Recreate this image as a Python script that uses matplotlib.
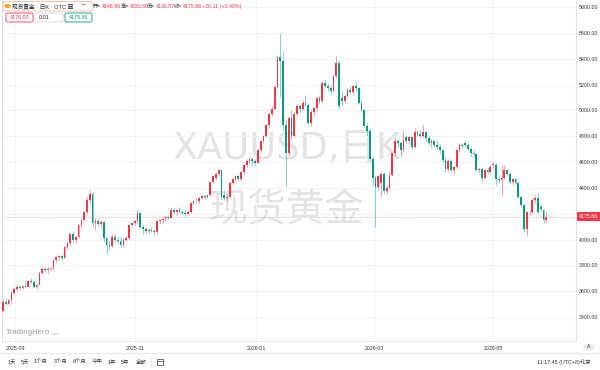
import matplotlib
matplotlib.use('Agg')
import matplotlib.pyplot as plt
from matplotlib.patches import FancyBboxPatch, Rectangle, Circle

plt.rcParams['font.family'] = ['Liberation Sans', 'Noto Sans CJK SC', 'DejaVu Sans']

# daily OHLC (late Aug 2025 .. May 2026)
opens = [3450, 3520, 3505, 3530, 3590, 3615, 3630, 3625, 3640, 3635,
         3680, 3670, 3635, 3650, 3740, 3775, 3765, 3770, 3780, 3840,
         3865, 3870, 3860, 3940, 3970, 4045, 3995, 4020, 4110, 4150,
         4210, 4310, 4355, 4130, 4145, 4120, 4135, 4010, 3960, 3950,
         4020, 4000, 3990, 3955, 4000, 4015, 4110, 4125, 4140, 4205,
         4100, 4080, 4065, 4075, 4070, 4055, 4140, 4150, 4160, 4175,
         4170, 4230, 4215, 4225, 4215, 4205, 4200, 4215, 4280, 4300,
         4295, 4320, 4335, 4330, 4345, 4445, 4480, 4510, 4535, 4345,
         4325, 4330, 4440, 4470, 4490, 4465, 4520, 4575, 4610, 4625,
         4605, 4595, 4690, 4760, 4800, 4885, 4975, 5010, 5180, 5410,
         5380, 4890, 4670, 4940, 4800, 4970, 5030, 5010, 5060, 5045,
         4900, 4990, 5015, 5095, 5070, 5215, 5185, 5175, 5150, 5265,
         5365, 5095, 5070, 5110, 5160, 5145, 5185, 5170, 5060, 5000,
         4880, 4840, 4620, 4480, 4410, 4440, 4505, 4375, 4400, 4500,
         4670, 4760, 4745, 4690, 4790, 4765, 4790, 4715, 4835, 4815,
         4805, 4830, 4785, 4745, 4760, 4730, 4720, 4690, 4615, 4545,
         4610, 4535, 4560, 4690, 4730, 4750, 4735, 4700, 4670, 4660,
         4535, 4550, 4475, 4540, 4520, 4575, 4580, 4470, 4460, 4480,
         4540, 4510, 4445, 4470, 4440, 4330, 4265, 4085, 4210, 4215,
         4305, 4320, 4255, 4230, 4148.96]
highs = [3540, 3545, 3540, 3600, 3630, 3645, 3650, 3650, 3660, 3690,
         3700, 3685, 3660, 3750, 3790, 3790, 3785, 3790, 3850, 3875,
         3880, 3890, 3950, 3990, 4060, 4055, 4030, 4120, 4160, 4220,
         4330, 4381, 4370, 4165, 4160, 4150, 4140, 4020, 3990, 4040,
         4045, 4030, 4020, 4010, 4025, 4120, 4135, 4150, 4240, 4215,
         4110, 4100, 4090, 4095, 4085, 4150, 4160, 4170, 4185, 4190,
         4250, 4245, 4235, 4255, 4230, 4225, 4225, 4290, 4310, 4320,
         4330, 4345, 4350, 4355, 4455, 4500, 4525, 4550, 4540, 4380,
         4350, 4450, 4480, 4500, 4510, 4530, 4585, 4620, 4640, 4635,
         4620, 4700, 4770, 4810, 4895, 4990, 5030, 5190, 5420, 5595,
         5450, 4930, 4960, 5000, 4990, 5050, 5050, 5080, 5120, 5060,
         5010, 5030, 5100, 5110, 5225, 5240, 5210, 5200, 5275, 5420,
         5380, 5140, 5130, 5170, 5190, 5200, 5230, 5180, 5080, 5010,
         4900, 4860, 4640, 4500, 4500, 4520, 4520, 4420, 4520, 4680,
         4790, 4780, 4760, 4850, 4810, 4800, 4800, 4860, 4845, 4850,
         4890, 4840, 4800, 4780, 4770, 4760, 4740, 4700, 4640, 4625,
         4620, 4570, 4700, 4745, 4750, 4765, 4745, 4710, 4690, 4670,
         4560, 4560, 4550, 4555, 4575, 4600, 4590, 4490, 4580, 4580,
         4550, 4520, 4480, 4480, 4450, 4340, 4275, 4220, 4230, 4320,
         4345, 4360, 4275, 4240, 4220.56]
lows = [3440, 3495, 3490, 3520, 3575, 3600, 3610, 3615, 3625, 3630,
        3660, 3625, 3620, 3645, 3730, 3750, 3745, 3760, 3775, 3830,
        3845, 3840, 3855, 3930, 3960, 3985, 3975, 4010, 4100, 4140,
        4195, 4280, 4100, 4075, 4100, 4090, 3990, 3890, 3920, 3940,
        3985, 3970, 3940, 3940, 3990, 4005, 4100, 4110, 4130, 4090,
        4040, 4050, 4040, 4055, 4030, 4045, 4120, 4130, 4140, 4160,
        4165, 4200, 4190, 4205, 4195, 4185, 4190, 4205, 4265, 4280,
        4285, 4305, 4315, 4320, 4340, 4435, 4470, 4500, 4310, 4310,
        4300, 4320, 4430, 4455, 4450, 4455, 4510, 4560, 4595, 4570,
        4580, 4590, 4680, 4745, 4795, 4870, 4960, 5000, 5170, 5100,
        4850, 4405, 4650, 4780, 4790, 4960, 4990, 5000, 5030, 4890,
        4880, 4960, 5000, 5050, 5060, 5170, 5150, 5130, 5140, 5250,
        5010, 5040, 5060, 5100, 5130, 5120, 5150, 5050, 4990, 4870,
        4810, 4600, 4420, 4100, 4390, 4330, 4360, 4350, 4390, 4490,
        4650, 4720, 4640, 4680, 4750, 4740, 4700, 4710, 4800, 4790,
        4795, 4760, 4730, 4720, 4715, 4700, 4670, 4600, 4520, 4530,
        4520, 4510, 4545, 4680, 4710, 4720, 4690, 4650, 4640, 4520,
        4515, 4450, 4465, 4505, 4510, 4560, 4420, 4440, 4340, 4470,
        4500, 4430, 4420, 4430, 4320, 4250, 4060, 4030, 4190, 4200,
        4285, 4200, 4220, 4130, 4136.57]
closes = [3520, 3505, 3530, 3590, 3615, 3630, 3625, 3640, 3635, 3680,
          3670, 3635, 3650, 3740, 3775, 3765, 3770, 3780, 3840, 3865,
          3870, 3860, 3940, 3975, 4045, 3995, 4020, 4110, 4150, 4210,
          4310, 4355, 4130, 4145, 4120, 4135, 4010, 3960, 3950, 4020,
          4000, 3990, 3955, 4000, 4015, 4110, 4125, 4140, 4205, 4100,
          4080, 4065, 4075, 4070, 4055, 4140, 4150, 4160, 4175, 4170,
          4230, 4215, 4225, 4215, 4205, 4200, 4215, 4280, 4300, 4295,
          4320, 4335, 4330, 4345, 4445, 4490, 4510, 4535, 4330, 4325,
          4330, 4440, 4470, 4490, 4465, 4520, 4575, 4610, 4625, 4605,
          4595, 4690, 4760, 4800, 4885, 4975, 5010, 5180, 5410, 5380,
          4890, 4670, 4940, 4800, 4970, 5030, 5010, 5060, 5045, 4900,
          4990, 5015, 5095, 5070, 5215, 5185, 5175, 5150, 5265, 5365,
          5030, 5070, 5110, 5160, 5145, 5185, 5170, 5060, 5000, 4880,
          4840, 4620, 4480, 4410, 4490, 4505, 4375, 4400, 4500, 4670,
          4760, 4745, 4690, 4770, 4765, 4790, 4715, 4835, 4815, 4805,
          4830, 4785, 4745, 4760, 4730, 4720, 4690, 4615, 4545, 4610,
          4535, 4560, 4690, 4730, 4725, 4735, 4700, 4670, 4660, 4535,
          4550, 4475, 4540, 4520, 4560, 4582, 4470, 4460, 4480, 4540,
          4510, 4445, 4470, 4440, 4330, 4265, 4085, 4210, 4215, 4305,
          4320, 4215, 4235, 4149, 4175.86]

month_labels = ['2025-09', '2025-11', '2026-01', '2026-03', '2026-05']
month_bars = [4.3, 47.1, 90.4, 132.5, 175.0]
price_ticks = [3400, 3600, 3800, 4000, 4200, 4400, 4600, 4800, 5000, 5200, 5400, 5600, 5800]
last_price = 4175.86

UP = '#f23645'
DOWN = '#089981'
W, H = 600, 370


def fx(x):
    return x / W


def fy(y):
    return 1 - y / H


fig = plt.figure(figsize=(6, 3.7), dpi=100)
ax = fig.add_axes([fx(2), fy(341), fx(574), 341 / H])

n = len(closes)
xs = list(range(n))
cols = [UP if c >= o else DOWN for o, c in zip(opens, closes)]
bottoms = [min(o, c) for o, c in zip(opens, closes)]
heights = [max(abs(c - o), 3) for o, c in zip(opens, closes)]

ax.vlines(xs, lows, highs, colors=cols, linewidth=0.6, alpha=0.55, zorder=3)
ax.bar(xs, heights, bottom=bottoms, width=0.62, color=cols, linewidth=0, zorder=4)

ax.axhline(last_price, color='#f7a6ad', lw=0.6, ls=(0, (1, 1)), zorder=2)

ax.set_xlim(-0.36, 204.6)
ax.set_ylim(3214.9, 5854.2)
ax.set_xticks(month_bars)
ax.set_xticklabels(month_labels)
ax.set_yticks(price_ticks)
ax.set_yticklabels([f'{p:.2f}' for p in price_ticks])
ax.yaxis.tick_right()
ax.tick_params(axis='y', length=0, pad=2, labelsize=3.8, labelcolor='#333333')
ax.tick_params(axis='x', length=0, pad=3.5, labelsize=3.8, labelcolor='#333333')
ax.grid(color='#f2f3f7', lw=0.6, zorder=0)
ax.spines['top'].set_visible(False)
ax.spines['right'].set_color('#e0e3eb')
ax.spines['left'].set_color('#dcdcea')
ax.spines['bottom'].set_color('#e6e8ef')
for s in ['right', 'left', 'bottom']:
    ax.spines[s].set_linewidth(0.8)

# watermark
ax.text(0.497, 0.565, 'XAUUSD,日K', transform=ax.transAxes, ha='center', va='center',
        fontsize=26.5, color='#e3e3e3', zorder=1, family=['DejaVu Sans', 'Noto Sans CJK SC'])
ax.text(0.495, 0.385, '现货黄金', transform=ax.transAxes, ha='center', va='center',
        fontsize=28, color='#e3e3e3', zorder=1, family=['Noto Sans CJK SC'])

# last price tag on the axis
fig.patches.append(Rectangle((fx(577), fy(221)), fx(23), 9 / H, transform=fig.transFigure,
                             facecolor=UP, edgecolor='none', zorder=5))
fig.text(fx(588.5), fy(216.5), f'{last_price:.2f}', ha='center', va='center',
         fontsize=3.8, color='white', zorder=6)

# header row
fig.patches.append(FancyBboxPatch((fx(3), fy(11)), fx(90), 9.5 / H, transform=fig.transFigure,
                                  boxstyle='round,pad=0,rounding_size=0.005',
                                  facecolor='white', edgecolor='#f3b89a', lw=0.6))
fig.patches.append(Circle((fx(7.5), fy(6)), 0.0055, transform=fig.transFigure,
                          facecolor='#f5a623', edgecolor='none'))
fig.text(fx(12), fy(6.3), '现货黄金 · 日K · OTC 囲', fontsize=4.1, color='#222222',
         va='center', ha='left')
fig.text(fx(82), fy(6.3), '•••', fontsize=3, color='#555555', va='center', ha='left')

hdr = [('开=', '4148.96', 93), ('高=', '4220.56', 121), ('低=', '4136.57', 147), ('收=', '4175.86', 174)]
for lab, val, x0 in hdr:
    fig.text(fx(x0), fy(6.3), lab, fontsize=3.8, color='#333333', va='center', ha='left')
    fig.text(fx(x0 + 8.5), fy(6.3), val, fontsize=3.8, color=UP, va='center', ha='left')
fig.text(fx(202), fy(6.3), '+20.11 (+0.48%)', fontsize=3.8, color=UP, va='center', ha='left')

boxes = [('4176.03', 6, 27, UP, UP), ('0.01', 35, 28, '#d5d8e0', '#222222'),
         ('4175.86', 65, 27, DOWN, DOWN)]
for txt, x0, wd, ec, tc in boxes:
    fig.patches.append(FancyBboxPatch((fx(x0), fy(22)), fx(wd), 9 / H, transform=fig.transFigure,
                                      boxstyle='round,pad=0,rounding_size=0.004',
                                      facecolor='white', edgecolor=ec, lw=0.6))
    if txt == '0.01':
        fig.text(fx(x0 + 4), fy(17.5), txt, fontsize=3.9, color=tc, va='center', ha='left')
    else:
        fig.text(fx(x0 + wd / 2), fy(17.5), txt, fontsize=3.9, color=tc, va='center', ha='center')

# brand
fig.text(fx(6), fy(333), 'TradingHero', fontsize=5.4, fontweight='bold', color='#b8b8b8',
         va='center', ha='left')
fig.text(fx(51), fy(334), '.com', fontsize=3, color='#b8b8b8', va='center', ha='left')

# lower toolbar
fig.add_artist(plt.Line2D([0, 1], [fy(353), fy(353)], transform=fig.transFigure,
                          color='#e6e8ef', lw=0.8))
tools = [('1天', 8), ('5天', 21), ('1个月', 34), ('3个月', 54), ('6个月', 73), ('今年', 92),
         ('1年', 108), ('5年', 121), ('全部', 136)]
for t, x0 in tools:
    fig.text(fx(x0), fy(362), t, fontsize=3.9, color='#333333', va='center', ha='left')
fig.add_artist(plt.Line2D([fx(151), fx(151)], [fy(357), fy(367)], transform=fig.transFigure,
                          color='#e0e3eb', lw=0.6))
# calendar icon (no installed font has the glyph)
fig.patches.append(Rectangle((fx(157), fy(365)), fx(6), 6 / H, transform=fig.transFigure,
                             facecolor='none', edgecolor='#555555', lw=0.6))
fig.add_artist(plt.Line2D([fx(157), fx(163)], [fy(361), fy(361)], transform=fig.transFigure,
                          color='#555555', lw=0.6))
fig.text(fx(591), fy(362), '11:17:45 (UTC+8)北京', fontsize=3.9, color='#333333',
         va='center', ha='right')
fig.patches.append(Circle((fx(589), fy(347)), 0.0095, transform=fig.transFigure,
                          facecolor='#e9ebf0', edgecolor='none'))
fig.text(fx(589), fy(347), 'A', fontsize=3.6, color='#333333', va='center', ha='center')

fig.savefig('out.png', dpi=100, facecolor='white')
